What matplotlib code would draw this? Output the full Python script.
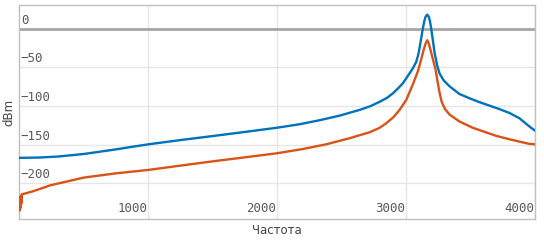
import matplotlib
matplotlib.use('Agg')
from matplotlib import pyplot as plt
from matplotlib import transforms

# frequency (Hz) / level (dBm)
blue_f = [0, 150, 300, 500, 750, 1000, 1250, 1500, 1750, 2000, 2175, 2330, 2484,
          2639, 2720, 2794, 2850, 2897, 2940, 2974, 3000, 3026, 3052, 3077, 3095,
          3110, 3128, 3140, 3150, 3162, 3174, 3184, 3193, 3205, 3220, 3240, 3258,
          3290, 3335, 3412, 3490, 3567, 3645, 3722, 3800, 3877, 3929, 3970, 4000]
blue_db = [-167, -166.6, -165.3, -162, -156, -149.5, -144, -138.8, -133.5, -128,
           -123.5, -118.3, -112.4, -105, -100.3, -94.5, -89.5, -83.5, -76.5, -70.5,
           -64, -57.6, -51, -43, -32, -18, 0, 10, 15.5, 18, 15.5, 9, 0, -14, -32,
           -48, -58, -67, -74.5, -84.5, -90, -95, -99.5, -104, -109, -115.8, -123,
           -128.5, -132]

orange_f = [0, 3, 6, 9, 12, 16, 20, 46, 110, 240, 500, 750, 1000, 1250, 1500,
            1750, 2000, 2200, 2381, 2561, 2716, 2790, 2845, 2900, 2948, 3000, 3051,
            3090, 3115, 3135, 3150, 3162, 3174, 3190, 3210, 3227, 3242, 3258, 3275,
            3300, 3335, 3412, 3513, 3600, 3697, 3800, 3877, 3950, 4000]
orange_db = [-218, -235, -220, -232, -216, -226, -214, -213, -210, -202.5, -192.5,
             -187, -182.6, -177, -171.5, -166.3, -161, -155.5, -149.4, -141.6,
             -133.9, -128.5, -122.2, -114.5, -105, -92, -72, -55, -40, -27, -19,
             -15, -19, -29, -42, -53, -68, -83, -95, -104, -111, -120, -128, -133,
             -138.6, -143, -146, -148.8, -149.5]

y_ticks = [0, -50, -100, -150, -200]
x_ticks = [1000, 2000, 3000, 4000]

fig = plt.figure(figsize=(5.44, 2.44), dpi=100)
ax = fig.add_axes([0.0355, 0.1025, 0.9485, 0.8785])

ax.set_xlim(0, 4000)
ax.set_ylim(-246, 31)

for v in y_ticks:
    ax.axhline(v, color='#e6e6e6', lw=1, zorder=1)
for v in x_ticks:
    ax.axvline(v, color='#e6e6e6', lw=1, zorder=1)
ax.axhline(0, color='#a6a6a6', lw=2, zorder=2)

ax.plot(blue_f, blue_db, color='#0072BD', lw=1.7, zorder=4,
        solid_joinstyle='round')
ax.plot(orange_f, orange_db, color='#D95319', lw=1.7, zorder=3,
        solid_joinstyle='round')

ax.set_xticks([])
ax.set_yticks([])
for s in ax.spines.values():
    s.set_color('#c0c0c0')
    s.set_linewidth(1)

mono = 'DejaVu Sans Mono'
ytr = transforms.blended_transform_factory(ax.transAxes, ax.transData)
ytr = ytr + transforms.ScaledTranslation(1.5 / 100, 2 / 100, fig.dpi_scale_trans)
for v in y_ticks:
    lab = str(v).replace('-', '\u2212')
    ax.text(0, v, lab, transform=ytr, ha='left', va='bottom',
            family=mono, fontsize=9, color='#5a5a5a')

xtr = transforms.blended_transform_factory(ax.transData, ax.transAxes)
xtr = xtr + transforms.ScaledTranslation(-1 / 100, 3.5 / 100, fig.dpi_scale_trans)
for v in x_ticks:
    ax.text(v, 0, str(v), transform=xtr, ha='right', va='bottom',
            family=mono, fontsize=9, color='#5a5a5a')

fig.text(9 / 544, 1 - 112 / 244, 'dBm', rotation=90, ha='center', va='center',
         fontsize=8.5, color='#444444')
fig.text(277 / 544, 1 - 231 / 244, 'Частота', ha='center', va='center',
         fontsize=8.5, color='#444444')

fig.savefig('out.png', dpi=100)
